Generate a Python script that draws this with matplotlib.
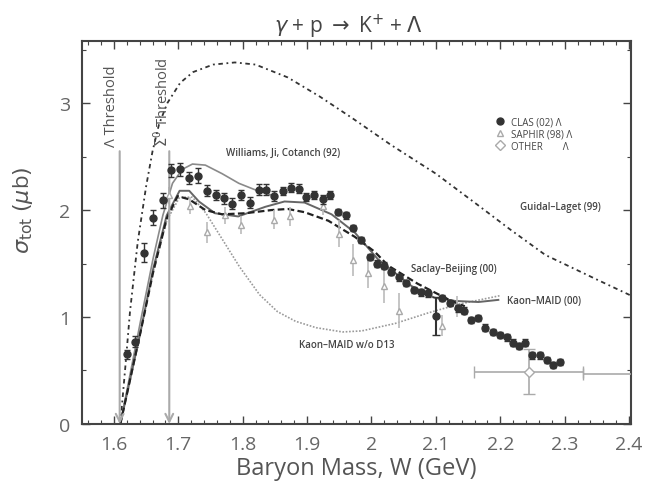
"""Total cross section for gamma + p -> K+ + Lambda, data vs. models."""

import matplotlib.pyplot as plt
from matplotlib.ticker import MultipleLocator

# CLAS (02) Lambda
clas_w = [1.620, 1.632, 1.646, 1.661, 1.676, 1.688, 1.703, 1.716, 1.731, 1.745,
          1.758, 1.771, 1.784, 1.798, 1.811, 1.825, 1.836, 1.849, 1.863, 1.875,
          1.887, 1.899, 1.911, 1.924, 1.936, 1.948, 1.961, 1.972, 1.984, 1.997,
          2.009, 2.020, 2.031, 2.042, 2.053, 2.066, 2.077, 2.088, 2.110, 2.122,
          2.134, 2.144, 2.154, 2.166, 2.177, 2.188, 2.199, 2.210, 2.219, 2.229,
          2.239, 2.249, 2.261, 2.272, 2.282, 2.292]
clas_sig = [0.65, 0.77, 1.60, 1.93, 2.09, 2.37, 2.38, 2.30, 2.32, 2.18,
            2.14, 2.11, 2.06, 2.14, 2.07, 2.19, 2.19, 2.13, 2.18, 2.21,
            2.20, 2.12, 2.14, 2.10, 2.14, 1.98, 1.95, 1.83, 1.72, 1.56,
            1.50, 1.48, 1.42, 1.37, 1.32, 1.25, 1.23, 1.22, 1.18, 1.13,
            1.08, 1.06, 0.97, 0.99, 0.90, 0.86, 0.83, 0.81, 0.76, 0.73,
            0.76, 0.64, 0.64, 0.60, 0.55, 0.58]
clas_err = [0.04, 0.05, 0.09, 0.07, 0.07, 0.06, 0.06, 0.06, 0.07, 0.05,
            0.05, 0.05, 0.05, 0.05, 0.05, 0.05, 0.05, 0.05, 0.04, 0.04,
            0.04, 0.04, 0.04, 0.04, 0.04, 0.03, 0.03, 0.03, 0.03, 0.03,
            0.03, 0.03, 0.03, 0.03, 0.03, 0.03, 0.03, 0.03, 0.03, 0.03,
            0.03, 0.03, 0.03, 0.03, 0.03, 0.03, 0.03, 0.03, 0.03, 0.03,
            0.03, 0.03, 0.03, 0.03, 0.03, 0.03]
# single CLAS point with large error near 2.1 GeV
clas_big_w = [2.100]
clas_big_sig = [1.01]
clas_big_err = [0.18]

# SAPHIR (98) Lambda
saphir_w = [1.686, 1.718, 1.745, 1.772, 1.798, 1.849, 1.874, 1.924, 1.949,
            1.972, 1.995, 2.019, 2.042, 2.110, 2.133]
saphir_sig = [2.14, 2.04, 1.79, 1.95, 1.86, 1.91, 1.94, 2.04, 1.78,
              1.53, 1.41, 1.29, 1.06, 0.92, 1.10]
saphir_err = [0.08, 0.08, 0.10, 0.08, 0.08, 0.09, 0.09, 0.09, 0.13,
              0.15, 0.14, 0.16, 0.16, 0.10, 0.10]

# OTHER Lambda
other_w = [2.244, 2.455]
other_sig = [0.49, 0.47]
other_werr = [0.085, 0.127]
other_err = [0.21, 0.0]

# model curves
guidal_w = [1.610, 1.618, 1.625, 1.637, 1.650, 1.660, 1.670, 1.683, 1.703, 1.723,
            1.754, 1.788, 1.820, 1.870, 1.920, 1.970, 2.030, 2.100, 2.160, 2.215,
            2.270, 2.350, 2.403]
guidal_sig = [0.00, 0.55, 1.05, 1.70, 2.22, 2.55, 2.80, 3.00, 3.19, 3.29,
              3.36, 3.38, 3.36, 3.24, 3.06, 2.86, 2.61, 2.34, 2.07, 1.82,
              1.58, 1.35, 1.20]

williams_w = [1.610, 1.641, 1.661, 1.676, 1.691, 1.706, 1.722, 1.742, 1.768,
              1.794, 1.819, 1.845]
williams_sig = [0.00, 0.95, 1.55, 1.95, 2.25, 2.38, 2.43, 2.42, 2.34,
                2.25, 2.19, 2.14]

maid_w = [1.610, 1.641, 1.661, 1.682, 1.702, 1.717, 1.732, 1.757, 1.793, 1.835,
          1.865, 1.896, 1.938, 1.974, 2.010, 2.062, 2.098, 2.130, 2.166, 2.197]
maid_sig = [0.00, 0.85, 1.45, 1.95, 2.18, 2.18, 2.08, 1.97, 1.94, 2.03,
            2.08, 2.07, 1.96, 1.79, 1.54, 1.29, 1.18, 1.15, 1.14, 1.16]

saclay_w = [1.610, 1.641, 1.661, 1.682, 1.699, 1.717, 1.742, 1.768, 1.804, 1.845,
            1.870, 1.896, 1.933, 1.974, 2.005, 2.026, 2.072, 2.098, 2.124, 2.145]
saclay_sig = [0.00, 0.85, 1.42, 1.92, 2.13, 2.10, 2.00, 1.96, 1.97, 2.00,
              2.01, 1.98, 1.90, 1.75, 1.61, 1.48, 1.31, 1.23, 1.15, 1.10]

nod13_w = [1.610, 1.641, 1.661, 1.682, 1.702, 1.722, 1.743, 1.768, 1.795, 1.826,
           1.854, 1.882, 1.914, 1.955, 1.985, 2.037, 2.089, 2.136, 2.168, 2.200]
nod13_sig = [0.00, 0.85, 1.42, 1.90, 2.12, 2.12, 1.97, 1.73, 1.47, 1.21,
             1.05, 0.96, 0.90, 0.86, 0.87, 0.94, 1.04, 1.12, 1.16, 1.20]

LAMBDA_THR = 1.609
SIGMA_THR = 1.686

TXT = "#555555"
plt.rcParams["font.family"] = ["Open Sans", "DejaVu Sans"]

fig = plt.figure(figsize=(6.61, 4.89), dpi=100)
ax = fig.add_axes([0.1236, 0.131, 0.8310, 0.783])

# model curves
ax.plot(guidal_w, guidal_sig, color="#333333", lw=1.3, ls=(0, (2.5, 2, 1, 2)))
ax.plot(williams_w, williams_sig, color="#8a8a8a", lw=1.2)
ax.plot(nod13_w, nod13_sig, color="#9a9a9a", lw=1.2, ls=(0, (1, 1)))
ax.plot(maid_w, maid_sig, color="#666666", lw=1.4)
ax.plot(saclay_w, saclay_sig, color="#222222", lw=1.6, ls=(0, (3, 1.5)))

# data
saph = ax.errorbar(saphir_w, saphir_sig, yerr=saphir_err, fmt="^", ms=5,
                   mfc="white", mec="#aaaaaa", ecolor="#bbbbbb", elinewidth=1.2,
                   capsize=0, zorder=3)
oth = ax.errorbar(other_w, other_sig, xerr=other_werr, yerr=other_err, fmt="D",
                  ms=5, mfc="white", mec="#aaaaaa", ecolor="#aaaaaa",
                  elinewidth=1.2, capsize=4, zorder=3)
clas = ax.errorbar(clas_w, clas_sig, yerr=clas_err, fmt="o", ms=5,
                   color="#333333", ecolor="#333333", elinewidth=1.0,
                   capsize=2, zorder=4)
ax.errorbar(clas_big_w, clas_big_sig, yerr=clas_big_err, fmt="o", ms=5,
            color="#333333", ecolor="#333333", elinewidth=1.5, capsize=3,
            zorder=4)

# thresholds
for w, lab, tx in [(LAMBDA_THR, "Λ Threshold", 1.597),
                   (SIGMA_THR, "$\\Sigma^0$ Threshold", 1.676)]:
    ax.annotate("", xy=(w, 0.0), xytext=(w, 2.55),
                arrowprops=dict(arrowstyle="->", color="#aaaaaa", lw=1.5,
                                mutation_scale=14, shrinkA=0, shrinkB=0))
    ax.text(tx, 2.60, lab, rotation=90, ha="center", va="bottom",
            fontsize=10.5, color=TXT)

# curve labels
lab_kw = dict(fontsize=7, color="#444444", fontweight="semibold")
ax.text(1.862, 2.54, "Williams, Ji, Cotanch (92)", ha="center", va="center", **lab_kw)
ax.text(2.293, 2.03, "Guidal–Laget (99)", ha="center", va="center", **lab_kw)
ax.text(2.128, 1.45, "Saclay–Beijing (00)", ha="center", va="center", **lab_kw)
ax.text(2.210, 1.15, "Kaon–MAID (00)", ha="left", va="center", **lab_kw)
ax.text(1.961, 0.74, "Kaon–MAID w/o D13", ha="center", va="center", **lab_kw)

ax.legend(handles=[clas[0], saph[0], oth[0]],
          labels=["CLAS (02) Λ", "SAPHIR (98) Λ", "OTHER        Λ"],
          loc="upper left", bbox_to_anchor=(0.74, 0.82), frameon=False,
          fontsize=7, handlelength=1.0, handletextpad=0.6, labelspacing=0.1,
          labelcolor="#444444", borderpad=0.2)

ax.set_xlim(1.55, 2.403)
ax.set_ylim(0, 3.58)
ax.xaxis.set_major_locator(MultipleLocator(0.1))
ax.xaxis.set_minor_locator(MultipleLocator(0.02))
ax.yaxis.set_major_locator(MultipleLocator(1))
ax.yaxis.set_minor_locator(MultipleLocator(0.5))
ax.set_xticks([1.6, 1.7, 1.8, 1.9, 2.0, 2.1, 2.2, 2.3, 2.4])
ax.set_xticklabels(["1.6", "1.7", "1.8", "1.9", "2", "2.1", "2.2", "2.3", "2.4"])
ax.tick_params(which="both", direction="in", top=True, right=True,
               colors="#444444", labelcolor="#666666", labelsize=14)
ax.tick_params(which="major", length=6, width=1.0, pad=8)
ax.tick_params(which="minor", length=3, width=0.8)
for s in ax.spines.values():
    s.set_linewidth(1.5)
    s.set_color("#444444")

ax.set_xlabel("Baryon Mass, W (GeV)", fontsize=17, color=TXT, labelpad=2)
ax.set_ylabel("$\\sigma_{\\rm tot}$ $(\\mu$b$)$", fontsize=16, color=TXT)
ax.yaxis.set_label_coords(-0.085, 0.56)

fig.text(0.527, 0.945, "$\\gamma$ + p $\\rightarrow$ K$^{+}$ + $\\Lambda$",
         ha="center", va="center", fontsize=15, color="#444444")

fig.savefig("out.png", dpi=100)
